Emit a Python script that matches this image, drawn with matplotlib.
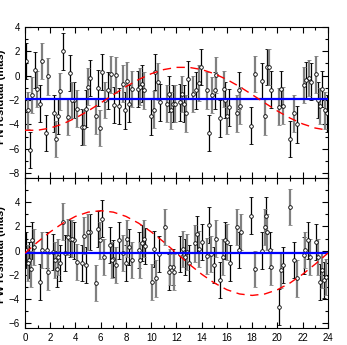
import numpy as np
import matplotlib
matplotlib.use("Agg")
import matplotlib.pyplot as plt
from matplotlib.ticker import MultipleLocator

# top panel (PN) residuals
top_x = [0.08, 0.26, 0.40, 0.58, 0.77, 0.93, 1.19, 1.38, 1.67, 1.85,
         2.30, 2.46, 2.65, 2.80, 2.99, 3.39, 3.57, 3.70, 3.89, 4.10,
         4.50, 4.68, 4.84, 5.00, 5.16, 5.63, 5.77, 5.95, 6.14, 6.30,
         6.61, 6.83, 7.04, 7.22, 7.41,
         7.75, 7.91, 8.07, 8.28, 8.47, 8.92, 9.08, 9.26, 9.44, 10.00,
         10.19, 10.32, 10.50, 10.66, 11.24, 11.38, 11.56, 11.72, 11.85, 12.25,
         12.41, 12.57, 12.75, 12.88, 13.31, 13.57, 13.81, 13.97, 14.42, 14.60,
         14.81, 15.08, 15.16, 15.48, 15.74, 15.87, 16.01, 16.14,
         16.80, 16.93, 17.06, 17.91, 18.23, 18.81, 19.00, 19.18, 19.37, 19.50,
         20.11, 20.29, 20.45, 21.03, 21.35, 21.56, 22.09, 22.28, 22.49, 22.67,
         23.02, 23.20, 23.41, 23.54, 23.73, 23.89]
top_y = [1.2, -2.85, -6.1, -1.6, 0.45, -1.1, -2.3, 1.2, -4.7, -0.05,
         -3.1, -5.2, -3.3, -1.3, 2.0, -3.4, 0.2, -2.0, -2.0, -2.7,
         -4.2, -4.2, -2.7, -0.9, -0.2, -3.3, -1.0, -4.3, 0.3, -2.0,
         -1.2, 0.1, -2.4, 0.05, -2.5,
         -0.65, -2.85, -0.4, -2.3, -1.1, -1.1, -0.9, -0.65, -1.2, -3.35,
         -2.8, 0.3, -0.5, -2.2, -2.3, -1.5, -2.85, -2.3, -2.3, -2.2,
         -1.5, -2.3, -3.1, -0.3, -1.5, -1.2, -0.6, 0.7, -1.2, -4.7,
         -1.6, -1.2, 0.05, -3.5, -1.1, -2.0, -3.3, -2.6,
         -3.1, -1.2, -2.45, -4.1, 0.15, -0.45, -3.35, 0.7, 0.7, -1.15,
         -2.55, -1.1, -2.45, -5.2, -3.1, -4.0, -0.75, -0.35, -0.2, -0.5,
         0.1, -2.0, -2.5, -1.1, -2.85, -3.1]

# bottom panel (PW) residuals
bot_x = [0.08, 0.21, 0.32, 0.45, 0.58, 0.71, 1.19, 1.35, 1.72, 1.85,
         2.25, 2.38, 2.51, 2.65, 2.78, 2.99, 3.17, 3.44, 3.57, 3.70,
         3.89, 4.10, 4.50, 4.68, 4.84, 5.03, 5.16, 5.63, 5.77, 5.95,
         6.08, 6.27, 6.75, 6.88, 7.01, 7.22, 7.41,
         7.80, 7.99, 8.12, 8.28, 8.47, 9.00, 9.13, 9.26, 9.39, 9.52,
         10.05, 10.19, 10.37, 10.58, 11.11, 11.38, 11.51, 11.69, 11.83, 12.30,
         12.49, 12.65, 12.83, 12.96, 13.49, 13.62, 13.78, 14.02, 14.42, 14.60,
         14.76, 14.95, 15.16, 15.48, 15.69, 15.87, 16.01, 16.22,
         16.80, 16.93, 17.12, 17.91, 18.23, 18.81, 19.00, 19.13, 19.18, 19.39,
         19.50, 20.11, 20.29, 20.45, 21.03, 21.35, 21.56, 22.09, 22.22, 22.41,
         22.57, 23.02, 23.20, 23.41, 23.54, 23.68, 23.84]
bot_y = [0.05, -1.05, -0.8, -1.5, 0.85, 0.3, -2.6, 0.05, 0.05, -1.75,
         -0.1, -0.8, -1.5, -0.5, -1.05, 2.4, -0.2, 1.15, 1.0, 1.0,
         0.85, -0.95, -1.05, 1.25, -1.2, 1.55, 1.55, -2.7, 1.8, 0.85,
         2.65, -0.5, 0.45, -0.8, -0.65, -1.2, 0.85,
         -0.2, -1.05, 1.0, 0.3, -0.8, 0.05, -0.75, 0.65, 1.0, 0.4,
         -2.6, 0.15, -2.3, -0.25, 1.95, -1.75, -1.35, -1.35, -1.75, -0.25,
         0.15, -0.5, -0.1, -1.05, 0.6, 1.4, 0.15, 0.7, -0.45, 2.1,
         -0.25, -1.2, 1.0, -2.45, -0.5, 0.85, 0.7, -1.05,
         1.95, 0.05, 1.55, 2.9, -1.5, 0.0, 1.95, 2.9, 1.55, 0.05,
         -1.35, -4.65, -1.6, -1.2, 3.6, -0.75, -2.3, -0.4, 0.05, 0.85,
         -0.55, 0.7, -0.5, -2.6, -1.6, -2.45, -2.2]

err_top = 1.5
err_bot = 1.5

# mean levels (blue) and fitted daily curves (red dashed), read hourly
top_mean = -1.9
bot_mean = -0.2
hours = list(range(25))
top_fit = [-4.48, -4.48, -4.30, -3.96, -3.48, -2.90, -2.24, -1.56, -0.90, -0.32,
           0.16, 0.50, 0.68, 0.68, 0.50, 0.16, -0.32, -0.90, -1.56, -2.24,
           -2.90, -3.48, -3.96, -4.30, -4.48]
bot_fit = [-0.20, 0.71, 1.55, 2.27, 2.83, 3.18, 3.30, 3.18, 2.83, 2.27,
           1.55, 0.71, -0.20, -1.11, -1.95, -2.67, -3.23, -3.58, -3.70, -3.58,
           -3.23, -2.67, -1.95, -1.11, -0.20]

plt.rcParams['font.family'] = ['Liberation Sans', 'DejaVu Sans']

fig = plt.figure(figsize=(3.47, 3.45), dpi=100)
ax1 = fig.add_axes([0.072, 0.484, 0.873, 0.438])
ax2 = fig.add_axes([0.072, 0.049, 0.873, 0.435])


def panel(ax, x, y, err, mean, fit):
    x = np.array(x)
    y = np.array(y)
    grey = np.arange(len(x)) % 2 == 1
    for sel, col, lw in [(~grey, 'black', 0.9), (grey, '#808080', 1.6)]:
        ax.errorbar(x[sel], y[sel], yerr=err, fmt='o', ms=2.6, mfc='white',
                    mec='black', mew=0.6, ecolor=col, elinewidth=lw,
                    capsize=1.5, capthick=0.8, zorder=2)
    ax.axhline(mean, color='#0000ff', lw=1.6, zorder=3)
    ax.plot(hours, fit, color='red', lw=1.0, dashes=(6, 4), zorder=4)
    ax.set_xlim(0, 24)
    ax.xaxis.set_major_locator(MultipleLocator(2))
    ax.xaxis.set_minor_locator(MultipleLocator(1))
    ax.yaxis.set_major_locator(MultipleLocator(2))
    ax.yaxis.set_minor_locator(MultipleLocator(1))
    ax.tick_params(which='both', direction='in', top=True, right=True,
                   labelsize=7, width=0.8)
    ax.tick_params(which='major', length=4)
    ax.tick_params(which='minor', length=2)
    for s in ax.spines.values():
        s.set_linewidth(0.8)


panel(ax1, top_x, top_y, err_top, top_mean, top_fit)
panel(ax2, bot_x, bot_y, err_bot, bot_mean, bot_fit)
ax1.set_ylim(-8.4, 4)
ax2.set_ylim(-6.4, 6)
ax1.tick_params(labelbottom=False)
ax2.set_yticks([-6, -4, -2, 0, 2, 4])

fig.text(0.004, 1 - 97 / 345, 'PN residual (mas)', rotation=90,
         ha='center', va='center', fontsize=8, fontweight='bold')
fig.text(0.004, 1 - 255 / 345, 'PW residual (mas)', rotation=90,
         ha='center', va='center', fontsize=8, fontweight='bold')

fig.savefig('out.png', dpi=100)
